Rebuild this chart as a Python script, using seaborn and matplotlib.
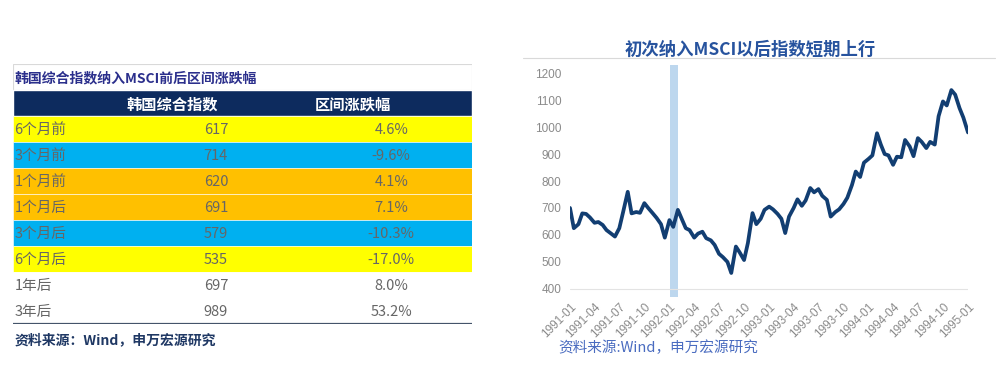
import numpy as np
import pandas as pd
import seaborn as sns
import matplotlib.pyplot as plt
from matplotlib.lines import Line2D

# 表格数据
table_title = '韩国综合指数纳入MSCI前后区间涨跌幅'
col_names = ['韩国综合指数', '区间涨跌幅']
periods = ['6个月前', '3个月前', '1个月前', '1个月后', '3个月后', '6个月后', '1年后', '3年后']
index_level = [617, 714, 620, 691, 579, 535, 697, 989]
change_pct = [4.6, -9.6, 4.1, 7.1, -10.3, -17.0, 8.0, 53.2]
row_colors = ['#FFFF00', '#00B0F0', '#FFC000', '#FFC000', '#00B0F0', '#FFFF00', 'white', 'white']

# 折线数据：韩国综合指数，半月读数 1991-01 ~ 1995-01
kospi = [700, 625, 640, 680, 678, 665, 645, 648, 637, 618,
         605, 594, 625, 685, 760, 680, 685, 682, 718, 700,
         680, 663, 640, 590, 655, 630, 693, 660, 625, 618,
         590, 605, 612, 588, 580, 563, 530, 518, 500, 459,
         557, 535, 507, 570, 681, 640, 660, 693, 705, 695,
         678, 660, 607, 668, 700, 732, 708, 728, 774, 758,
         770, 745, 730, 668, 685, 695, 715, 738, 785, 835,
         815, 868, 882, 895, 977, 935, 900, 895, 860, 890,
         888, 952, 928, 892, 959, 945, 922, 945, 935, 1040,
         1095, 1080, 1137, 1120, 1070, 1035, 980]
dates = pd.date_range('1991-01-01', periods=len(kospi), freq='SMS')
msci_band = pd.to_datetime(['1992-01-03', '1992-02-01'])

sns.set_theme(style='white')
plt.rcParams['font.family'] = ['Noto Sans CJK SC', 'DejaVu Sans']

fig = plt.figure(figsize=(10, 3.84), dpi=100)
fig.patch.set_facecolor('white')

# ---- 左侧表格 ----
n = len(periods)
ax_t = fig.add_axes([0.013, 1 - 324 / 384, 0.459, 260 / 384])
ax_t.set_xlim(0, 1)
ax_t.set_ylim(n + 2, 0)
ax_t.axis('off')

ax_t.barh(0.5, 1, height=1, left=0, color='white', edgecolor='#D9D9D9', linewidth=0.8)
ax_t.barh(1.5, 1, height=1, left=0, color='#0D2B5E')
ax_t.barh(np.arange(n) + 2.5, 1, height=1, left=0, color=row_colors,
          edgecolor='white', linewidth=0.4)
ax_t.axhline(n + 2, color='#44546A', lw=1.6)

ax_t.text(0.004, 0.55, table_title, ha='left', va='center', fontsize=10,
          fontweight='bold', color='#2B2F8C')
ax_t.text(0.346, 1.55, col_names[0], ha='center', va='center', fontsize=11,
          fontweight='bold', color='white')
ax_t.text(0.741, 1.55, col_names[1], ha='center', va='center', fontsize=11,
          fontweight='bold', color='white')

for i, (p, v, c) in enumerate(zip(periods, index_level, change_pct)):
    y = i + 2.55
    ax_t.text(0.003, y, p, ha='left', va='center', fontsize=10.5, color='#666666')
    ax_t.text(0.442, y, f'{v}', ha='center', va='center', fontsize=10.5, color='#666666')
    ax_t.text(0.824, y, f'{c:.1f}%', ha='center', va='center', fontsize=10.5, color='#666666')

fig.text(0.015, 1 - 340 / 384, '资料来源：Wind，申万宏源研究', ha='left', va='center',
         fontsize=10, fontweight='bold', color='#1F3864')

# ---- 右侧折线图 ----
ax = fig.add_axes([0.570, 1 - 297 / 384, 0.398, 232 / 384])
ax.axvspan(msci_band[0], msci_band[1], color='#BDD7EE', lw=0, zorder=0)
ax.axhline(400, color='#E3E3E3', lw=0.8, zorder=1)
df = pd.DataFrame({'date': dates, 'kospi': kospi})
sns.lineplot(data=df, x='date', y='kospi', ax=ax, color='#123E72', lw=2.7, zorder=3)

ax.set_xlim(pd.Timestamp('1991-01-01'), pd.Timestamp('1995-01-01'))
ax.set_ylim(370, 1230)
ax.set_yticks(range(400, 1201, 100))
ticks = pd.date_range('1991-01-01', '1995-01-01', freq='QS')
ax.set_xticks(ticks)
ax.set_xticklabels([t.strftime('%Y-%m') for t in ticks], rotation=45, ha='right',
                   va='top', rotation_mode='anchor')
ax.tick_params(axis='both', length=0, labelsize=8.5, labelcolor='#8A8A8A')
ax.tick_params(axis='y', pad=6)
ax.tick_params(axis='x', pad=3)
for lab in ax.get_xticklabels() + ax.get_yticklabels():
    lab.set_family(['Liberation Sans', 'DejaVu Sans'])
ax.set_xlabel('')
ax.set_ylabel('')
for s in ax.spines.values():
    s.set_visible(False)
ax.set_facecolor('none')

fig.text(0.750, 1 - 50 / 384, '初次纳入MSCI以后指数短期上行', ha='center', va='center',
         fontsize=12.5, fontweight='bold', color='#27539E')
fig.add_artist(Line2D([0.523, 0.995], [1 - 58 / 384] * 2, color='#D9D9D9', lw=0.8))
fig.text(0.558, 1 - 348 / 384, '资料来源:Wind，申万宏源研究', ha='left', va='center',
         fontsize=10.5, color='#4A6CC0')

fig.savefig('out.png', dpi=100, facecolor='white')
